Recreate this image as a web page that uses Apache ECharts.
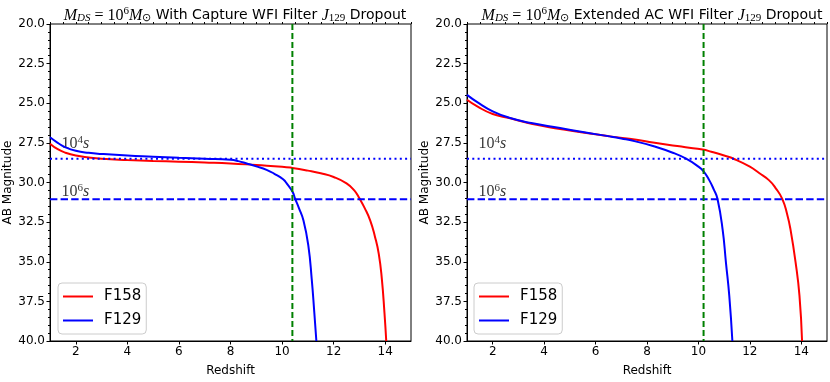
<!DOCTYPE html>
<html>
<head>
<meta charset="utf-8">
<script src="https://cdn.jsdelivr.net/npm/echarts@6/dist/echarts.min.js"></script>
<style>
  html, body { margin: 0; padding: 0; background: #fff; }
  #main { width: 830px; height: 382px; }
</style>
</head>
<body>
<div id="main"></div>
<script>
// [redshift, AB magnitude]
var leftF158 = [[1.0, 27.55], [1.3, 27.9], [1.6, 28.12], [2.0, 28.3], [2.5, 28.42], [3.0, 28.5], [4.0, 28.58],
    [5.0, 28.64], [6.0, 28.69], [7.0, 28.74], [8.0, 28.8], [9.0, 28.9], [10.0, 29.0], [10.4, 29.08],
    [11.0, 29.25], [11.5, 29.42], [12.0, 29.65], [12.5, 30.05], [12.8, 30.5], [13.0, 31.0], [13.2, 31.6],
    [13.42, 32.4], [13.6, 33.4], [13.75, 34.5], [13.87, 36.1], [13.97, 38.2], [14.04, 40.0]];
var leftF129 = [[1.0, 27.15], [1.3, 27.5], [1.6, 27.78], [2.0, 28.0], [2.5, 28.13], [3.0, 28.2], [4.0, 28.3],
    [5.0, 28.37], [6.0, 28.44], [7.0, 28.5], [8.0, 28.57], [8.3, 28.65], [8.63, 28.8], [9.0, 28.98],
    [9.4, 29.2], [9.7, 29.45], [10.04, 29.8], [10.2, 30.1], [10.41, 30.6], [10.5, 31.0], [10.65, 31.6],
    [10.83, 32.4], [11.02, 34.0], [11.15, 36.1], [11.25, 38.2], [11.33, 40.0]];
var rightF158 = [[1.0, 24.78], [1.4, 25.2], [2.0, 25.68], [2.68, 25.95], [3.5, 26.3], [4.62, 26.62],
    [5.5, 26.85], [6.55, 27.09], [7.59, 27.3], [8.23, 27.47], [9.0, 27.66], [9.5, 27.78], [10.16, 27.92],
    [10.5, 28.06], [11.0, 28.3], [11.39, 28.52], [12.0, 29.0], [12.36, 29.4], [12.74, 29.85], [13.0, 30.35],
    [13.26, 31.03], [13.45, 32.0], [13.58, 32.96], [13.78, 35.05], [13.93, 37.15], [14.03, 40.0]];
var rightF129 = [[1.0, 24.47], [1.4, 24.93], [2.0, 25.51], [2.68, 25.93], [3.5, 26.25], [4.62, 26.56],
    [5.5, 26.82], [6.55, 27.09], [7.0, 27.22], [7.59, 27.42], [8.23, 27.7], [9.0, 28.12], [9.52, 28.5],
    [10.0, 29.0], [10.2, 29.3], [10.42, 29.85], [10.6, 30.45], [10.74, 31.03], [10.94, 32.96],
    [11.07, 35.05], [11.2, 37.15], [11.32, 40.0]];

var mag1e4 = 28.5;          // 10^4 s limit (dotted)
var mag1e6 = 31.05;         // 10^6 s limit (dashed)
var dropoutLeft = 10.4;     // green dashed
var dropoutRight = 10.2;
var zRange = [1, 15];
var zTicks = [2, 4, 6, 8, 10, 12, 14];
var magRange = [20, 40];
var titles = [
    '{mi|M}{sub|DS}{m| = 10}{sup|6}{mi|M}{subr|\u2299}{t| With Capture WFI Filter }{mi|J}{subr|129}{t| Dropout}',
    '{mi|M}{sub|DS}{m| = 10}{sup|6}{mi|M}{subr|\u2299}{t| Extended AC WFI Filter }{mi|J}{subr|129}{t| Dropout}'
];
var legendNames = ['F158', 'F129'];

var myChart = echarts.init(document.getElementById('main'));

var sans = 'DejaVu Sans';
var serif = 'Liberation Serif';
var titleRich = {
    t: { fontFamily: sans, fontSize: 14, fontWeight: 'normal', color: '#000' },
    mi: { fontFamily: serif, fontStyle: 'italic', fontWeight: 'normal', fontSize: 16, color: '#000' },
    m: { fontFamily: serif, fontSize: 16, fontWeight: 'normal', color: '#000' },
    sup: { fontFamily: serif, fontSize: 11, fontWeight: 'normal', color: '#000', padding: [0, 0, 8, 0] },
    sub: { fontFamily: serif, fontStyle: 'italic', fontWeight: 'normal', fontSize: 11, color: '#000', padding: [6, 0, 0, 0] },
    subr: { fontFamily: serif, fontSize: 11, fontWeight: 'normal', color: '#000', padding: [6, 0, 0, 0] }
};
var noteRich = {
    n: { fontFamily: serif, fontSize: 16, color: '#000' },
    s: { fontFamily: serif, fontStyle: 'italic', fontSize: 16, color: '#000' },
    sup: { fontFamily: serif, fontSize: 11, color: '#000', padding: [0, 0, 8, 0] }
};

var grids = [
    { left: 50, top: 24, width: 361, height: 318 },
    { left: 467, top: 24, width: 360, height: 318 }
];
grids.forEach(function (g) {
    g.show = true;
    g.borderColor = '#000';
    g.borderWidth = 1;
    g.backgroundColor = 'transparent';
});

var xAxes = [], yAxes = [], series = [], legends = [], titleArr = [];
[0, 1].forEach(function (i) {
    // major ticks and labels at even redshifts
    xAxes.push({
        type: 'value', gridIndex: i, min: zRange[0], max: zRange[1],
        name: 'Redshift', nameLocation: 'middle', nameGap: 24,
        nameTextStyle: { fontFamily: sans, fontSize: 12, color: '#000' },
        axisLine: { lineStyle: { color: '#000', width: 1 } },
        axisTick: { length: 3.5, customValues: zTicks, lineStyle: { color: '#000' } },
        axisLabel: { fontFamily: sans, fontSize: 12, color: '#000', margin: 5, customValues: zTicks },
        splitLine: { show: false }
    });
    // minor ticks every 0.5
    xAxes.push({
        type: 'value', gridIndex: i, min: zRange[0], max: zRange[1], interval: 0.5,
        axisLine: { show: false },
        axisTick: { length: 2, lineStyle: { color: '#000' } },
        axisLabel: { show: false },
        splitLine: { show: false }
    });
    yAxes.push({
        type: 'value', gridIndex: i, min: magRange[0], max: magRange[1], interval: 2.5, inverse: true,
        name: 'AB Magnitude', nameLocation: 'middle', nameGap: 36, nameRotate: 90,
        nameTextStyle: { fontFamily: sans, fontSize: 12, color: '#000' },
        axisLine: { lineStyle: { color: '#000', width: 1 } },
        axisTick: { length: 3.5, lineStyle: { color: '#000' } },
        minorTick: { show: true, splitNumber: 5, length: 2, lineStyle: { color: '#000' } },
        axisLabel: { fontFamily: sans, fontSize: 12, color: '#000', margin: 5,
            formatter: function (v) { return v.toFixed(1); } },
        splitLine: { show: false }
    });
    titleArr.push({
        text: titles[i], left: i === 0 ? 230 : 647, top: 1, textAlign: 'center',
        textStyle: { fontWeight: 'normal', rich: titleRich }
    });
    legends.push({
        data: legendNames, orient: 'vertical',
        left: i === 0 ? 58 : 474, top: 283,
        padding: [6, 5, 6, 5], itemGap: 9,
        itemWidth: 30, itemHeight: 2, icon: 'rect',
        borderColor: '#ccc', borderWidth: 1, borderRadius: 4, backgroundColor: 'rgba(255,255,255,0.8)',
        textStyle: { fontFamily: sans, fontSize: 15, color: '#000', padding: [0, 0, 0, 6] }
    });
});

function curve(name, data, color, gi) {
    return {
        name: name, type: 'line', xAxisIndex: gi * 2, yAxisIndex: gi, data: data,
        symbol: 'none', smooth: 0.5,
        lineStyle: { color: color, width: 2 }, itemStyle: { color: color },
        z: 3
    };
}
function refLine(data, color, type, gi) {
    return {
        type: 'line', xAxisIndex: gi * 2, yAxisIndex: gi, data: data, symbol: 'none',
        lineStyle: { color: color, width: 2, type: type }, silent: true, z: 4
    };
}

[[leftF158, leftF129, dropoutLeft], [rightF158, rightF129, dropoutRight]].forEach(function (p, gi) {
    series.push(curve('F158', p[0], '#ff0000', gi));
    series.push(curve('F129', p[1], '#0000ff', gi));
    series.push(refLine([[zRange[0], mag1e4], [zRange[1], mag1e4]], '#0000ff', [2, 3.3], gi));
    series.push(refLine([[zRange[0], mag1e6], [zRange[1], mag1e6]], '#0000ff', [7.4, 3.2], gi));
    series.push(refLine([[p[2], magRange[0]], [p[2], magRange[1]]], '#008000', [6, 3], gi));
    series.push({
        type: 'scatter', xAxisIndex: gi * 2, yAxisIndex: gi, symbolSize: 0, silent: true,
        data: [[1.45, 27.55], [1.45, 30.6]],
        label: {
            show: true, position: 'right', distance: 0,
            formatter: function (d) {
                return d.dataIndex === 0 ? '{n|10}{sup|4}{s|s}' : '{n|10}{sup|6}{s|s}';
            },
            rich: noteRich
        }
    });
});

var option = {
    backgroundColor: '#fff',
    animation: false,
    title: titleArr,
    legend: legends,
    grid: grids,
    xAxis: xAxes,
    yAxis: yAxes,
    series: series
};
myChart.setOption(option);
</script>
</body>
</html>
